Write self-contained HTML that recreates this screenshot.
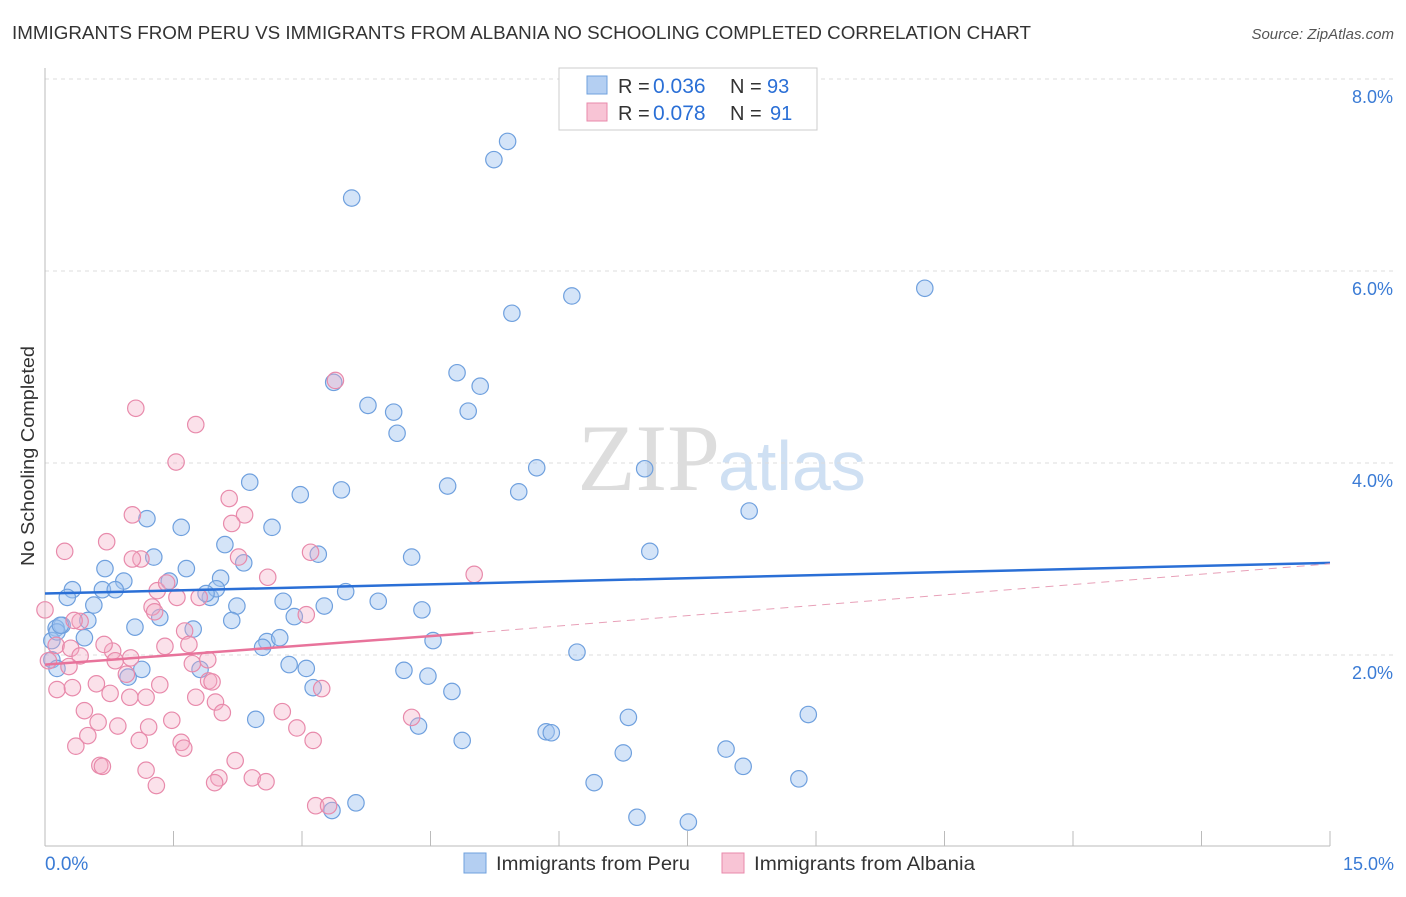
<!DOCTYPE html>
<html><head><meta charset="utf-8"><style>
body{margin:0;background:#fff;font-family:"Liberation Sans",sans-serif}
</style></head><body>
<svg id="c" width="1406" height="892" xmlns="http://www.w3.org/2000/svg">
<text x="12" y="39" font-size="18.5" fill="#333" textLength="1019" lengthAdjust="spacingAndGlyphs">IMMIGRANTS FROM PERU VS IMMIGRANTS FROM ALBANIA NO SCHOOLING COMPLETED CORRELATION CHART</text>
<text x="1394" y="39" font-size="15" fill="#555" font-style="italic" text-anchor="end">Source: ZipAtlas.com</text>
<text x="34" y="456" font-size="18" fill="#333" text-anchor="middle" transform="rotate(-90 34 456)" textLength="220" lengthAdjust="spacingAndGlyphs">No Schooling Completed</text>
<text x="720" y="490" font-size="95" fill="#ddd" text-anchor="end" font-family="Liberation Serif">ZIP</text>
<text x="718" y="490" font-size="70" fill="#cfe0f3">atlas</text>
<g id="grid"></g><g id="marks"></g><g id="lines"></g>
<rect x="559" y="68" width="258" height="62" fill="#fff" stroke="#ccc"/>
<rect x="587" y="76" width="20" height="18" fill="#b4cff2" stroke="#6fa0de"/>
<rect x="587" y="103" width="20" height="18" fill="#f8c4d5" stroke="#e88aab"/>
<g font-size="20">
<text x="618" y="93" fill="#333">R =</text><text x="653" y="93" fill="#2a6fd6" font-size="21">0.036</text>
<text x="730" y="93" fill="#333">N =</text><text x="767" y="93" fill="#2a6fd6">93</text></g>
<g font-size="20">
<text x="618" y="120" fill="#333">R =</text><text x="653" y="120" fill="#2a6fd6" font-size="21">0.078</text>
<text x="730" y="120" fill="#333">N =</text><text x="770" y="120" fill="#2a6fd6">91</text></g>
<rect x="464" y="853" width="22" height="20" fill="#b4cff2" stroke="#6fa0de"/>
<text x="496" y="870" font-size="19" fill="#333" textLength="194" lengthAdjust="spacingAndGlyphs">Immigrants from Peru</text>
<rect x="722" y="853" width="22" height="20" fill="#f8c4d5" stroke="#e88aab"/>
<text x="754" y="870" font-size="19" fill="#333" textLength="221" lengthAdjust="spacingAndGlyphs">Immigrants from Albania</text>
<text x="45" y="870" font-size="19" fill="#3a7bd5">0.0%</text>
<text x="1394" y="870" font-size="18" fill="#3a7bd5" text-anchor="end">15.0%</text>
</svg>
<script>
const yTicks=[2,4,6,8];
const yTickLabels=["2.0%","4.0%","6.0%","8.0%"];
const peruX=[5.4,5.24,3.58,6.15,5.45,10.27,4.81,5.08,3.37,3.77,4.07,4.94,4.11,5.74,7.0,4.7,5.53,2.39,2.98,3.46,1.19,1.59,2.65,8.22,2.1,1.27,2.32,3.19,4.28,7.06,0.7,1.65,0.92,1.45,2.05,0.32,0.67,0.82,0.26,0.57,1.93,2.0,1.88,2.78,3.51,3.89,3.26,2.24,4.4,0.5,0.2,0.13,1.34,1.05,1.73,2.18,2.91,0.46,2.59,2.54,2.74,4.53,6.21,0.08,0.14,1.13,0.97,1.81,2.85,3.05,4.19,4.47,3.13,4.75,4.36,2.46,6.81,8.91,5.85,5.91,4.87,6.75,7.95,8.15,8.8,6.41,3.63,3.35,6.91,7.51,0.08,0.14,0.18];
const peruY=[7.35,7.16,6.76,5.74,5.56,5.82,4.94,4.8,4.84,4.6,4.53,4.54,4.31,3.95,3.94,3.76,3.7,3.8,3.67,3.72,3.42,3.33,3.33,3.5,3.15,3.02,2.96,3.05,3.02,3.08,2.9,2.9,2.77,2.77,2.8,2.68,2.68,2.68,2.6,2.52,2.6,2.69,2.64,2.56,2.66,2.56,2.51,2.51,2.47,2.36,2.31,2.28,2.39,2.29,2.27,2.36,2.4,2.18,2.14,2.08,2.18,2.15,2.03,1.95,1.86,1.85,1.77,1.85,1.9,1.86,1.84,1.78,1.66,1.62,1.26,1.33,1.35,1.38,1.2,1.19,1.11,0.98,1.02,0.84,0.71,0.67,0.46,0.38,0.31,0.26,2.15,2.24,2.31];
const albX=[3.39,1.06,1.76,1.53,2.15,1.02,2.33,2.18,0.23,0.72,1.12,2.26,3.1,2.6,5.01,1.31,1.42,1.8,1.25,1.54,1.28,0.0,0.41,1.63,3.05,0.13,0.3,0.79,0.69,0.82,1.4,1.68,1.0,0.41,0.04,0.28,1.72,1.9,0.95,1.91,0.14,0.32,0.6,1.34,1.95,3.23,0.76,1.18,1.76,0.99,1.99,2.77,2.07,0.46,0.62,0.85,1.21,1.48,4.28,2.94,3.13,0.5,0.36,1.59,1.1,1.62,2.22,0.64,0.67,1.18,2.03,1.98,2.42,2.58,1.3,3.16,3.31,0.34,1.02];
const albY=[4.86,4.57,4.4,4.01,3.63,3.46,3.46,3.37,3.08,3.18,3.0,3.02,3.07,2.81,2.84,2.67,2.75,2.6,2.5,2.6,2.45,2.47,2.35,2.25,2.42,2.1,2.07,2.04,2.11,1.94,2.09,2.11,1.97,1.99,1.94,1.88,1.91,1.95,1.8,1.73,1.64,1.66,1.7,1.69,1.72,1.65,1.6,1.56,1.56,1.56,1.51,1.41,1.4,1.42,1.3,1.26,1.25,1.32,1.35,1.24,1.11,1.16,1.05,1.09,1.11,1.03,0.9,0.85,0.84,0.8,0.72,0.67,0.72,0.68,0.64,0.43,0.43,2.36,3.0];
const peruTrend=[2.64,2.96];
const albTrend=[1.90,2.23,2.95];
const X=v=>45+v*1285/15, Y=v=>847-v*96;
const NS="http://www.w3.org/2000/svg";
function mk(t,a,p){const e=document.createElementNS(NS,t);for(const k in a)e.setAttribute(k,a[k]);document.getElementById(p).appendChild(e);return e;}
yTicks.forEach((t,i)=>{
 const l=mk('line',{x1:45,x2:1394,y1:Y(t),y2:Y(t),stroke:'#ddd','stroke-dasharray':'4,4'},'grid');
 
 
 const tx=mk('text',{x:1393,y:Y(t)+24,'font-size':18,fill:'#3a7bd5','text-anchor':'end'},'grid');
 tx.textContent=yTickLabels[i];
 
 
});
const ax=mk('line',{x1:45,x2:45,y1:68,y2:846,stroke:'#bbb'},'grid');


const bx=mk('line',{x1:45,x2:1330,y1:846,y2:846,stroke:'#bbb'},'grid');


for(let i=0;i<=10;i++){const t=mk('line',{x1:X(i*1.5),x2:X(i*1.5),y1:831,y2:846,stroke:'#bbb'},'grid');
 
 }
peruX.forEach((v,i)=>{const c=mk('circle',{cx:X(v),cy:Y(peruY[i]),r:8.2,fill:'rgba(160,196,240,0.45)',stroke:'#6fa0de','stroke-width':1.2},'marks');
 
 });
albX.forEach((v,i)=>{const c=mk('circle',{cx:X(v),cy:Y(albY[i]),r:8.2,fill:'rgba(244,170,196,0.35)',stroke:'#e88aab','stroke-width':1.2},'marks');
 
 });
const pl=mk('line',{x1:X(0),y1:Y(peruTrend[0]),x2:X(15),y2:Y(peruTrend[1]),stroke:'#2a6fd6','stroke-width':2.5},'lines');


const al=mk('line',{x1:X(0),y1:Y(albTrend[0]),x2:X(5),y2:Y(albTrend[1]),stroke:'#e8739b','stroke-width':2.5},'lines');


const ad=mk('line',{x1:X(5),y1:Y(albTrend[1]),x2:X(15),y2:Y(albTrend[2]),stroke:'#e8a0b8','stroke-width':1,'stroke-dasharray':'8,6'},'lines');


</script>
</body></html>
